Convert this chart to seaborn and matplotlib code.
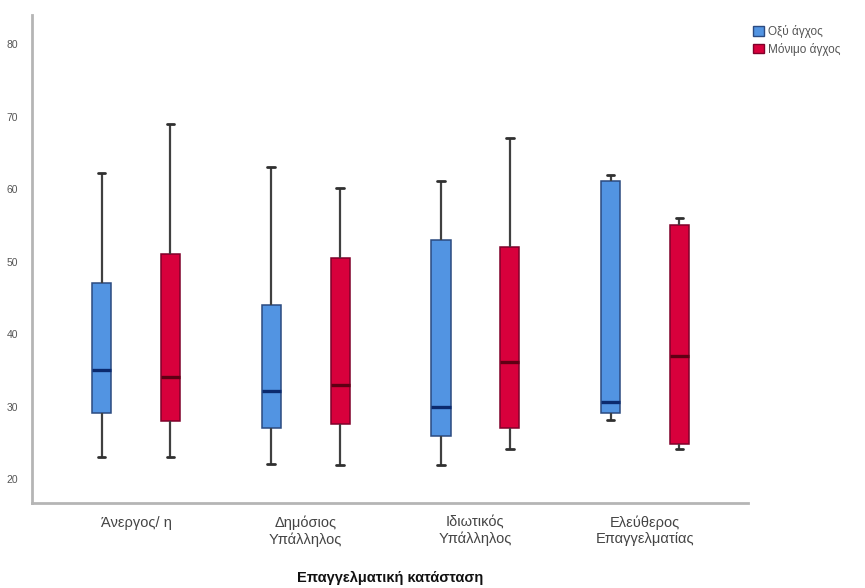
import numpy as np
import pandas as pd
import seaborn as sns
import matplotlib.pyplot as plt
from matplotlib.patches import Patch

# categories and groups
categories = ["Άνεργος/ η", "Δημόσιος\nΥπάλληλος", "Ιδιωτικός\nΥπάλληλος", "Ελεύθερος\nΕπαγγελματίας"]
groups = ["Οξύ άγχος", "Μόνιμο άγχος"]

# five-number summaries: min, Q1, median, Q3, max
acute = [
    [23.0, 29.1, 35.1, 47.0, 62.2],
    [22.1, 27.0, 32.1, 44.0, 63.1],
    [22.0, 26.0, 30.0, 53.0, 61.1],
    [28.2, 29.1, 30.6, 61.1, 62.0],
]
chronic = [
    [23.0, 28.0, 34.1, 51.0, 69.0],
    [22.0, 27.6, 33.0, 50.5, 60.1],
    [24.1, 27.0, 36.1, 52.0, 67.1],
    [24.1, 24.9, 37.0, 55.0, 56.0],
]

rows = []
for cat, a, c in zip(categories, acute, chronic):
    for v in a:
        rows.append((cat, groups[0], v))
    for v in c:
        rows.append((cat, groups[1], v))
df = pd.DataFrame(rows, columns=["status", "group", "score"])

blue = "#5294e2"
red = "#d8003c"

sns.set_style("white")
plt.rcParams["font.family"] = ["Liberation Sans", "DejaVu Sans"]

fig = plt.figure(figsize=(8.65, 5.88), dpi=100)
ax = fig.add_axes([32 / 865, 1 - 503 / 588, (748 - 32) / 865, (503 - 15) / 588])

sns.boxplot(data=df, x="status", y="score", hue="group", order=categories,
            hue_order=groups, palette=[blue, red], saturation=1,
            width=0.813, gap=0.72, whis=np.inf, linewidth=1.1,
            legend=False, ax=ax,
            whiskerprops={"color": "#404040", "linewidth": 1.6},
            capprops={"color": "#303030", "linewidth": 2},
            medianprops={"linewidth": 2.4})

for patch in ax.patches:
    fc = patch.get_facecolor()
    patch.set_edgecolor("#2b4a80" if fc[2] > 0.5 else "#80002a")

# medians darker than their box, caps a bit shorter
for line in ax.lines:
    xd = np.asarray(line.get_xdata(), dtype=float)
    yd = np.asarray(line.get_ydata(), dtype=float)
    if len(yd) == 2 and yd[0] == yd[1] and xd[0] != xd[1]:
        xm = xd.mean()
        w = abs(xd[1] - xd[0])
        if w > 0.08:
            line.set_color("#0b2a6e" if xm - round(xm) < 0 else "#5e0014")
        else:
            line.set_xdata([xm - 0.022, xm + 0.022])

ax.set_xlim(-0.613, 3.607)
ax.set_ylim(16.7, 84)
ax.set_yticks([20, 30, 40, 50, 60, 70, 80])
ax.tick_params(axis="y", labelsize=7.5, colors="#555555", length=0, pad=10)
ax.tick_params(axis="x", labelsize=10.5, colors="#444444", length=0, pad=9)
ax.set_xticks(range(len(categories)))
ax.set_xticklabels(categories, linespacing=1.2)
ax.set_ylabel("")
ax.set_xlabel("Επαγγελματική κατάσταση", fontsize=10.5, fontweight="bold",
              labelpad=17, color="#111111")

for s in ["top", "right"]:
    ax.spines[s].set_visible(False)
for s in ["left", "bottom"]:
    ax.spines[s].set_color("#b5b5b5")
    ax.spines[s].set_linewidth(2)

handles = [Patch(facecolor=blue, edgecolor="#2b4a80", label=groups[0]),
           Patch(facecolor=red, edgecolor="#80002a", label=groups[1])]
fig.legend(handles=handles, loc="upper left", bbox_to_anchor=(744 / 865, 1 - 16 / 588),
           frameon=False, fontsize=8.5, handlelength=0.9, handleheight=0.9,
           handletextpad=0.35, labelspacing=0.35, labelcolor="#555555",
           borderpad=0.3)

fig.savefig("out.png", dpi=100)
